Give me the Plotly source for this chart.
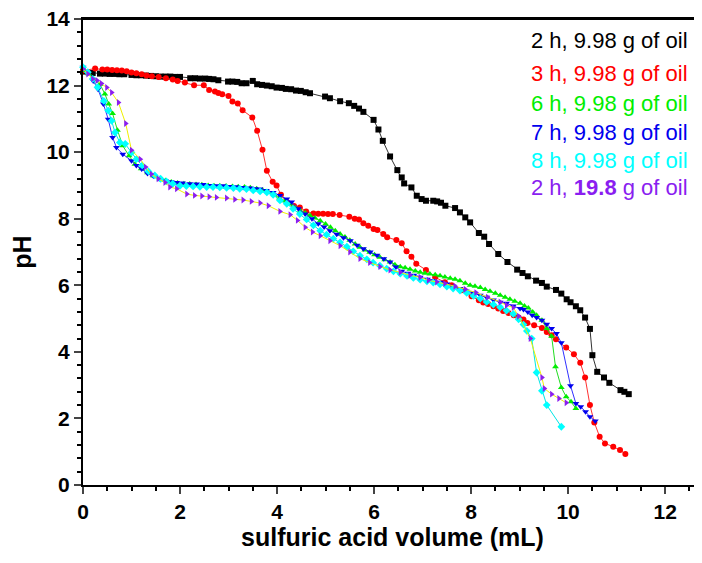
import plotly.graph_objects as go

# 2 h, 9.98 g of oil
x_2h = [0.0, 0.2, 0.35, 0.45, 0.55, 0.65, 0.75, 0.85, 1.0, 1.1, 1.2, 1.3, 1.4, 1.5, 1.6, 1.7, 1.8, 1.9,
        2.0, 2.21, 2.31, 2.41, 2.52, 2.6, 2.69, 2.79, 2.99, 3.08, 3.18, 3.27, 3.37, 3.5, 3.59, 3.69,
        3.79, 3.89, 3.99, 4.1, 4.18, 4.29, 4.39, 4.49, 4.59, 4.68, 4.99, 5.09, 5.3, 5.48, 5.59, 5.69,
        5.78, 5.99, 6.09, 6.18, 6.33, 6.48, 6.57, 6.62, 6.77, 6.88, 6.98, 7.07, 7.22, 7.3, 7.38, 7.47,
        7.67, 7.77, 7.88, 7.98, 8.16, 8.27, 8.37, 8.56, 8.75, 8.95, 9.06, 9.17, 9.34, 9.46, 9.56, 9.75,
        9.86, 9.97, 10.05, 10.16, 10.25, 10.35, 10.45, 10.5, 10.6, 10.74, 10.85, 11.08, 11.16, 11.25]
y_2h = [12.42, 12.38, 12.36, 12.36, 12.35, 12.35, 12.34, 12.34, 12.32, 12.31, 12.31, 12.3, 12.29, 12.28,
        12.27, 12.27, 12.27, 12.26, 12.26, 12.22, 12.22, 12.21, 12.21, 12.2, 12.19, 12.16, 12.12, 12.12,
        12.11, 12.07, 12.07, 12.14, 12.04, 12.02, 12.0, 11.98, 11.94, 11.93, 11.9, 11.89, 11.85, 11.84,
        11.8, 11.77, 11.67, 11.62, 11.53, 11.47, 11.39, 11.31, 11.21, 10.97, 10.68, 10.34, 9.87, 9.46,
        9.24, 9.06, 8.94, 8.69, 8.59, 8.54, 8.54, 8.52, 8.48, 8.39, 8.32, 8.19, 8.04, 7.89, 7.57, 7.46,
        7.24, 6.94, 6.7, 6.47, 6.37, 6.27, 6.14, 6.07, 5.96, 5.86, 5.75, 5.58, 5.49, 5.37, 5.25, 5.03,
        4.69, 3.9, 3.4, 3.23, 3.07, 2.85, 2.8, 2.73]

# 3 h, 9.98 g of oil
x_3h = [0.0, 0.25, 0.4, 0.5, 0.6, 0.7, 0.8, 0.9, 1.0, 1.1, 1.21, 1.31, 1.42, 1.56, 1.71, 1.85, 1.95,
        2.1, 2.29, 2.49, 2.6, 2.72, 2.79, 2.87, 3.0, 3.08, 3.19, 3.29, 3.49, 3.59, 3.7, 3.79, 3.91, 3.99,
        4.08, 4.2, 4.35, 4.47, 4.6, 4.75, 4.85, 4.95, 5.05, 5.15, 5.29, 5.49, 5.6, 5.69, 5.78, 5.88,
        5.99, 6.07, 6.19, 6.27, 6.46, 6.57, 6.67, 6.77, 6.87, 7.07, 7.26, 7.46, 7.6, 7.8, 8.01, 8.16,
        8.25, 8.35, 8.46, 8.56, 8.66, 8.77, 8.88, 8.98, 9.08, 9.16, 9.3, 9.46, 9.56, 9.66, 9.75, 9.96,
        10.12, 10.25, 10.35, 10.45, 10.54, 10.65, 10.76, 10.93, 11.07, 11.18]
y_3h = [12.45, 12.51, 12.48, 12.48, 12.47, 12.46, 12.45, 12.43, 12.39, 12.37, 12.34, 12.3, 12.28, 12.26,
        12.22, 12.18, 12.14, 12.09, 12.01, 12.01, 11.87, 11.82, 11.78, 11.74, 11.69, 11.52, 11.46, 11.26,
        11.04, 10.64, 10.07, 9.44, 9.11, 9.0, 8.72, 8.5, 8.38, 8.34, 8.22, 8.16, 8.15, 8.15, 8.14, 8.14,
        8.11, 8.06, 8.0, 7.98, 7.86, 7.79, 7.69, 7.66, 7.54, 7.44, 7.36, 7.26, 7.02, 6.86, 6.65, 6.46,
        6.24, 6.09, 6.0, 5.85, 5.67, 5.55, 5.48, 5.44, 5.37, 5.3, 5.23, 5.17, 5.1, 5.03, 4.97, 4.87, 4.8,
        4.72, 4.6, 4.5, 4.38, 4.13, 3.93, 3.67, 3.23, 2.4, 1.88, 1.45, 1.25, 1.15, 1.05, 0.93]

# 6 h, 9.98 g of oil
x_6h = [0.0, 0.12, 0.22, 0.35, 0.45, 0.53, 0.61, 0.71, 0.82, 0.95, 1.07, 1.2, 1.33, 1.46, 1.58, 1.7,
        1.82, 1.95, 2.08, 2.2, 2.33, 2.45, 2.58, 2.7, 2.82, 2.95, 3.08, 3.2, 3.33, 3.45, 3.58, 3.7,
        3.82, 3.94, 4.05, 4.16, 4.27, 4.38, 4.48, 4.58, 4.68, 4.78, 4.89, 5.0, 5.1, 5.2, 5.3, 5.4,
        5.5, 5.61, 5.71, 5.81, 5.91, 6.01, 6.12, 6.22, 6.33, 6.43, 6.54, 6.64, 6.74, 6.85, 6.95, 7.05,
        7.15, 7.26, 7.36, 7.46, 7.57, 7.67, 7.77, 7.88, 7.98, 8.08, 8.19, 8.29, 8.39, 8.5, 8.6, 8.7,
        8.8, 8.9, 9.01, 9.1, 9.18, 9.27, 9.35, 9.46, 9.56, 9.66, 9.74, 9.86, 9.96, 10.06, 10.16]
y_6h = [12.45, 12.35, 12.2, 12.04, 11.75, 11.45, 11.16, 10.66, 10.19, 9.89, 9.64, 9.5, 9.38, 9.28, 9.2,
        9.15, 9.1, 9.07, 9.05, 9.04, 9.03, 9.02, 9.0, 8.99, 8.99, 8.98, 8.97, 8.96, 8.95, 8.93, 8.9,
        8.86, 8.8, 8.72, 8.62, 8.54, 8.44, 8.33, 8.24, 8.17, 8.1, 8.02, 7.94, 7.84, 7.74, 7.64, 7.54,
        7.45, 7.35, 7.24, 7.14, 7.06, 6.99, 6.92, 6.84, 6.77, 6.7, 6.62, 6.56, 6.53, 6.48, 6.43, 6.39,
        6.36, 6.34, 6.32, 6.29, 6.25, 6.21, 6.18, 6.14, 6.06, 6.0, 5.97, 5.93, 5.87, 5.82, 5.76, 5.7,
        5.64, 5.58, 5.52, 5.46, 5.38, 5.32, 5.2, 5.1, 4.95, 4.7, 4.47, 3.55, 2.93, 2.65, 2.5, 2.3]

# 7 h, 9.98 g of oil
x_7h = [0.0, 0.1, 0.21, 0.31, 0.42, 0.52, 0.61, 0.69, 0.82, 1.0, 1.1, 1.21, 1.33, 1.45, 1.57, 1.7,
        1.82, 1.93, 2.05, 2.2, 2.34, 2.48, 2.62, 2.76, 2.9, 3.03, 3.17, 3.3, 3.45, 3.55, 3.65, 3.78,
        3.92, 4.06, 4.2, 4.3, 4.44, 4.58, 4.72, 4.85, 4.97, 5.09, 5.23, 5.37, 5.51, 5.65, 5.78, 5.92,
        6.06, 6.2, 6.33, 6.45, 6.57, 6.7, 6.82, 6.95, 7.1, 7.22, 7.36, 7.5, 7.63, 7.77, 7.9, 8.05,
        8.19, 8.32, 8.46, 8.6, 8.73, 8.87, 9.01, 9.08, 9.17, 9.26, 9.35, 9.46, 9.56, 9.66, 9.76, 9.86,
        10.05, 10.16, 10.26, 10.36, 10.45, 10.56]
y_7h = [12.55, 12.4, 12.14, 11.89, 11.45, 10.99, 10.44, 10.14, 9.94, 9.74, 9.6, 9.49, 9.36, 9.28, 9.2,
        9.14, 9.11, 9.09, 9.07, 9.05, 9.04, 9.03, 9.0, 8.99, 8.99, 8.97, 8.96, 8.94, 8.92, 8.9, 8.89,
        8.85, 8.79, 8.7, 8.59, 8.5, 8.3, 8.14, 8.0, 7.85, 7.75, 7.64, 7.53, 7.43, 7.34, 7.2, 7.1, 7.0,
        6.9, 6.8, 6.7, 6.55, 6.42, 6.36, 6.3, 6.24, 6.18, 6.14, 6.09, 6.04, 5.97, 5.9, 5.83, 5.77, 5.7,
        5.64, 5.56, 5.49, 5.46, 5.38, 5.3, 5.27, 5.2, 5.1, 5.03, 4.95, 4.83, 4.7, 4.55, 4.27, 2.98, 2.45,
        2.35, 2.2, 2.05, 1.92]

# 8 h, 9.98 g of oil
x_8h = [0.0, 0.1, 0.2, 0.3, 0.43, 0.52, 0.59, 0.66, 0.76, 0.87, 1.0, 1.1, 1.22, 1.35, 1.48, 1.6, 1.72,
        1.85, 2.0, 2.13, 2.27, 2.41, 2.55, 2.68, 2.82, 2.96, 3.1, 3.23, 3.37, 3.51, 3.65, 3.79, 3.92,
        4.06, 4.2, 4.33, 4.47, 4.61, 4.75, 4.89, 5.02, 5.16, 5.3, 5.44, 5.57, 5.71, 5.85, 5.98, 6.12,
        6.26, 6.4, 6.54, 6.68, 6.81, 6.95, 7.09, 7.22, 7.36, 7.5, 7.63, 7.77, 7.91, 8.05, 8.19, 8.32,
        8.46, 8.6, 8.73, 8.87, 8.98, 9.08, 9.15, 9.25, 9.35, 9.46, 9.56, 9.86]
y_8h = [12.55, 12.4, 12.2, 11.95, 11.54, 11.25, 10.94, 10.59, 10.29, 10.25, 9.99, 9.79, 9.6, 9.42, 9.3,
        9.2, 9.12, 9.05, 8.99, 8.98, 8.97, 8.96, 8.95, 8.95, 8.94, 8.93, 8.92, 8.9, 8.89, 8.85, 8.82,
        8.79, 8.72, 8.55, 8.45, 8.3, 8.14, 7.98, 7.8, 7.64, 7.52, 7.4, 7.29, 7.16, 7.02, 6.89, 6.78,
        6.68, 6.59, 6.5, 6.42, 6.35, 6.28, 6.22, 6.17, 6.12, 6.08, 6.03, 5.96, 5.9, 5.84, 5.77, 5.68,
        5.6, 5.5, 5.42, 5.34, 5.24, 5.14, 4.98, 4.82, 4.63, 4.4, 3.38, 2.83, 2.4, 1.75]

# 2 h, 19.8 g of oil
x_19 = [0.0, 0.1, 0.2, 0.29, 0.38, 0.49, 0.59, 0.73, 0.88, 1.0, 1.18, 1.29, 1.41, 1.55, 1.69, 1.79,
        1.93, 2.14, 2.3, 2.45, 2.6, 2.75, 2.96, 3.13, 3.3, 3.47, 3.65, 3.82, 4.06, 4.27, 4.42, 4.58,
        4.73, 4.89, 5.09, 5.3, 5.5, 5.71, 5.91, 6.12, 6.33, 6.54, 6.74, 6.95, 7.12, 7.29, 7.46, 7.67,
        7.88, 8.1, 8.34, 8.6, 8.73, 8.87, 8.98, 9.22, 9.46, 9.51, 9.66, 9.81, 9.96]
y_19 = [12.5, 12.35, 12.2, 12.15, 12.06, 11.94, 11.79, 11.49, 10.86, 10.06, 9.79, 9.55, 9.34, 9.2, 9.09,
        8.95, 8.9, 8.74, 8.7, 8.68, 8.66, 8.64, 8.62, 8.58, 8.56, 8.52, 8.47, 8.39, 8.22, 8.12, 7.95,
        7.74, 7.6, 7.49, 7.34, 7.19, 7.0, 6.8, 6.68, 6.56, 6.46, 6.39, 6.3, 6.24, 6.15, 6.1, 6.05, 5.97,
        5.88, 5.78, 5.64, 5.5, 5.4, 5.33, 5.07, 4.4, 3.23, 2.9, 2.73, 2.6, 2.47]

series = [
    (x_2h, y_2h, 'black', '#333333', 'square'),
    (x_3h, y_3h, '#ff0000', '#ff3030', 'circle'),
    (x_6h, y_6h, '#00ee00', '#22dd22', 'triangle-up'),
    (x_7h, y_7h, '#0000ee', '#3030ff', 'triangle-down'),
    (x_8h, y_8h, '#00ffff', '#00e5e5', 'diamond'),
    (x_19, y_19, '#8a1ef0', '#f0f000', 'triangle-right'),
]

legend_texts = ['2 h, 9.98 g of oil', '3 h, 9.98 g of oil', '6 h, 9.98 g of oil',
                '7 h, 9.98 g of oil', '8 h, 9.98 g of oil', '2 h, <b>19.8</b> g of oil']
legend_colors = ['black', '#ff0000', '#00ee00', '#0000ee', '#00ffff', '#8a1ef0']

fig = go.Figure()
for xs, ys, mc, lc, sym in series:
    fig.add_trace(go.Scatter(x=xs, y=ys, mode='lines+markers',
                             line=dict(color=lc, width=1),
                             marker=dict(symbol=sym, size=6, color=mc, line=dict(width=0)),
                             showlegend=False, cliponaxis=False))

leg_y = [13.34, 12.35, 11.45, 10.58, 9.74, 8.93]
for t, c, yy in zip(legend_texts, legend_colors, leg_y):
    fig.add_annotation(x=9.2, y=yy, xref='x', yref='y', text=t, showarrow=False,
                       xanchor='left', yanchor='middle',
                       font=dict(family='Liberation Sans', size=22, color=c))

# top frame line
fig.add_shape(type='line', xref='paper', yref='paper', x0=0, x1=1, y0=1, y1=1,
              line=dict(color='black', width=2), layer='above')

tickf = dict(family='Liberation Sans', size=21, color='black', weight='bold')
fig.update_xaxes(range=[0, 12.76], tick0=0, dtick=2, ticks='outside', ticklen=7, tickwidth=2,
                 showline=True, linecolor='black', linewidth=2, mirror=True, showgrid=False,
                 zeroline=False, tickfont=tickf, automargin=False, ticklabeloverflow='allow',
                 minor=dict(dtick=0.5, ticks='outside', ticklen=4, tickwidth=2, tickcolor='black'),
                 title=dict(text='sulfuric acid volume (mL)', standoff=6,
                            font=dict(family='Liberation Sans', size=25, color='black', weight='bold')))
fig.update_yaxes(range=[0, 14], tick0=0, dtick=2, ticks='outside', ticklen=7, tickwidth=2,
                 showline=True, linecolor='black', linewidth=2, showgrid=False,
                 zeroline=False, tickfont=tickf, automargin=False, ticklabeloverflow='allow',
                 minor=dict(dtick=0.4, ticks='outside', ticklen=4, tickwidth=2, tickcolor='black'),
                 title=dict(text='pH', standoff=10,
                            font=dict(family='Liberation Sans', size=25, color='black', weight='bold')))

# the page body adds an 8 px offset, so the figure is sized to fill the rest of the window
fig.update_layout(width=694, height=555, margin=dict(l=75, r=0, t=11, b=78),
                  plot_bgcolor='white', paper_bgcolor='white')
fig.write_html("out.html")
